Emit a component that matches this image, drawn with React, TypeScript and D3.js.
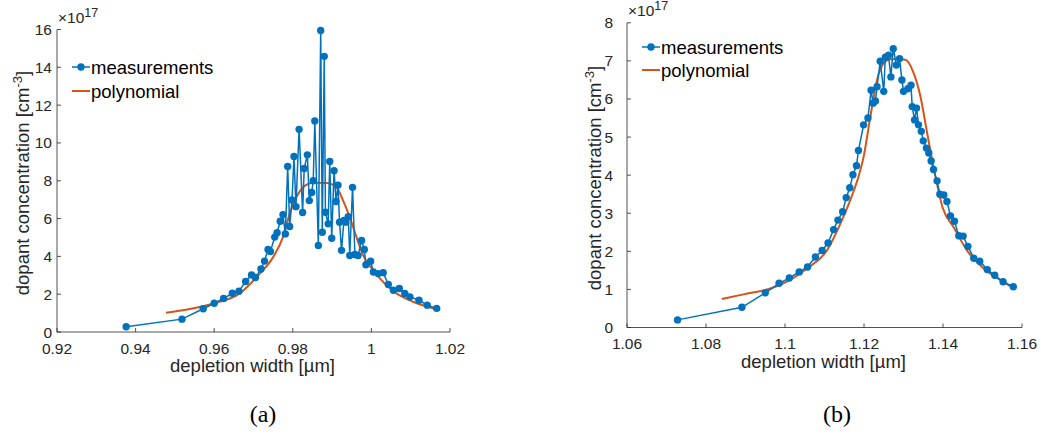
import React, { useEffect } from "react";
import * as d3 from "d3";

// ---------- data (concentration in units of 1e17 cm^-3, depth in µm) ----------
const depthA = [
  0.9376, 0.9518, 0.9572, 0.96, 0.9624, 0.9646, 0.9663, 0.968, 0.9695, 0.9705,
  0.9719, 0.9728, 0.9737, 0.9743, 0.9754, 0.976, 0.9768, 0.9775, 0.9781, 0.9787,
  0.9792, 0.9798, 0.9803, 0.9808, 0.9816, 0.9825, 0.9829, 0.9837, 0.9842, 0.9848,
  0.9852, 0.9856, 0.9865, 0.9871, 0.9875, 0.988, 0.9883, 0.989, 0.9894, 0.9899,
  0.9905, 0.991, 0.9915, 0.9919, 0.9924, 0.993, 0.9935, 0.9941, 0.9945, 0.9952,
  0.9958, 0.9966, 0.9975, 0.9982, 0.9986, 0.9998, 1.0005, 1.0017, 1.003, 1.0043,
  1.0056, 1.0071, 1.0085, 1.0098, 1.0121, 1.0142, 1.0166,
];
const concA = [
  0.28, 0.68, 1.23, 1.52, 1.77, 2.05, 2.16, 2.67, 3.02, 2.88,
  3.33, 3.75, 4.37, 4.26, 5.02, 5.25, 5.86, 6.21, 5.19, 8.75,
  5.58, 6.98, 9.28, 6.63, 10.72, 6.32, 8.65, 9.37, 6.95, 7.38,
  8.0, 11.16, 4.58, 15.95, 5.28, 14.58, 6.33, 5.72, 9.02, 4.96,
  8.53, 6.9, 7.77, 5.81, 4.32, 5.9, 5.81, 6.1, 4.05, 7.65,
  4.1, 4.05, 4.84, 4.37, 3.56, 3.74, 3.17, 3.09, 3.14, 2.51,
  2.21, 2.3, 2.04, 1.86, 1.68, 1.42, 1.25,
];
const polyDepthA = [
  0.9477, 0.9535, 0.96, 0.9665, 0.9716, 0.975, 0.9775, 0.9792, 0.9809, 0.9831,
  0.9852, 0.9886, 0.9911, 0.9928, 0.9945, 0.9962, 0.9979, 1.0005, 1.0034, 1.0064,
  1.0106, 1.0175,
];
const polyConcA = [
  1.02, 1.2, 1.52, 2.04, 3.09, 3.96, 5.02, 6.25, 7.12, 7.74,
  7.89, 7.88, 7.65, 6.95, 6.07, 5.02, 4.05, 3.26, 2.56, 2.04,
  1.6, 1.16,
];

const depthB = [
  1.0728, 1.0891, 1.095, 1.0985, 1.1011, 1.1036, 1.1057, 1.1077, 1.1094, 1.1109,
  1.1123, 1.1134, 1.1146, 1.1155, 1.1164, 1.1172, 1.1181, 1.1186, 1.1199, 1.121,
  1.1218, 1.1223, 1.1229, 1.1233, 1.1241, 1.125, 1.1254, 1.1262, 1.1268, 1.1274,
  1.1282, 1.129, 1.1296, 1.13, 1.1311, 1.1319, 1.1322, 1.1328, 1.1333, 1.1338,
  1.1345, 1.135, 1.1358, 1.1364, 1.137, 1.1376, 1.1385, 1.1392, 1.1402, 1.141,
  1.1419, 1.1429, 1.144, 1.1451, 1.1463, 1.1478, 1.1493, 1.1512, 1.1531, 1.1552,
  1.1578,
];
const concB = [
  0.2, 0.53, 0.91, 1.16, 1.3, 1.46, 1.59, 1.85, 2.02, 2.22,
  2.57, 2.82, 3.04, 3.41, 3.67, 4.01, 4.25, 4.65, 5.32, 5.5,
  6.23, 5.89, 5.95, 6.32, 6.99, 6.2, 7.1, 7.15, 6.58, 7.32,
  6.89, 7.06, 6.5, 6.2, 6.27, 6.36, 5.8, 5.45, 5.76, 5.32,
  5.15, 4.9, 4.71, 4.58, 4.37, 4.15, 3.85, 3.5, 3.48, 3.31,
  2.93, 2.79, 2.41, 2.4, 2.13, 1.82, 1.74, 1.52, 1.37, 1.2,
  1.07,
];
const polyDepthB = [
  1.084, 1.0895, 1.0971, 1.1013, 1.1056, 1.1106, 1.114, 1.1174, 1.1186, 1.1199,
  1.1216, 1.1233, 1.125, 1.1267, 1.1285, 1.1305, 1.1325, 1.1343, 1.136, 1.138,
  1.1399, 1.1427, 1.1461, 1.1503, 1.1546, 1.1582,
];
const polyConcB = [
  0.75, 0.87, 1.05, 1.25, 1.55, 2.02, 2.72, 3.59, 3.96, 4.48,
  5.53, 6.5, 6.94, 7.04, 7.05, 7.03, 6.7, 6.06, 5.1, 4.0,
  3.15, 2.63, 2.02, 1.55, 1.24, 1.01,
];

const xTicksA = [0.92, 0.94, 0.96, 0.98, 1.0, 1.02];
const xTickLabelsA = ["0.92", "0.94", "0.96", "0.98", "1", "1.02"];
const yTicksA = [0, 2, 4, 6, 8, 10, 12, 14, 16];
const xTicksB = [1.06, 1.08, 1.1, 1.12, 1.14, 1.16];
const xTickLabelsB = ["1.06", "1.08", "1.1", "1.12", "1.14", "1.16"];
const yTicksB = [0, 1, 2, 3, 4, 5, 6, 7, 8];
const legendLabels = ["measurements", "polynomial"];
const xAxisTitle = "depletion width [\u00b5m]";
const yAxisTitle = "dopant concentration [cm";
const exponentText = "17";
const captions = ["(a)", "(b)"];

// ---------- styling ----------
const BLUE = "#0072BD";
const ORANGE = "#D95319";
const AXIS = "#262626";
const SANS = "'Liberation Sans', Arial, Helvetica, sans-serif";
const SERIF = "'Liberation Serif', 'Times New Roman', serif";

type PanelProps = {
  xs: number[];
  ys: number[];
  pxs: number[];
  pys: number[];
  xDomain: [number, number];
  yDomain: [number, number];
  xRange: [number, number];
  yRange: [number, number];
  xTicks: number[];
  xTickLabels: string[];
  yTicks: number[];
  yLabelRight: number;
  xLabelY: number;
  yTitleX: number;
  yTitleY: number;
  xTitleY: number;
  legendX: number;
  legendY: number;
  legendGap: number;
  caption: string;
  captionX: number;
};

function Panel(p: PanelProps) {
  const x = d3.scaleLinear().domain(p.xDomain).range(p.xRange);
  const y = d3.scaleLinear().domain(p.yDomain).range(p.yRange);
  const measPts = p.xs.map((v, i) => [v, p.ys[i]] as [number, number]);
  const polyPts = p.pxs.map((v, i) => [v, p.pys[i]] as [number, number]);
  const line = d3
    .line<[number, number]>()
    .x((d) => x(d[0]))
    .y((d) => y(d[1]));
  const smooth = d3
    .line<[number, number]>()
    .x((d) => x(d[0]))
    .y((d) => y(d[1]))
    .curve(d3.curveMonotoneX);
  const [x0, x1] = p.xRange;
  const [yb, yt] = p.yRange;
  const tick = 4;
  const xMid = (x0 + x1) / 2;
  return (
    <g>
      {/* axes */}
      <line x1={x0} y1={yb} x2={x1} y2={yb} stroke={AXIS} strokeWidth={0.8} />
      <line x1={x0} y1={yb} x2={x0} y2={yt} stroke={AXIS} strokeWidth={0.8} />
      {p.xTicks.map((t, i) => (
        <g key={"xt" + i}>
          <line x1={x(t)} x2={x(t)} y1={yb} y2={yb - tick} stroke={AXIS} strokeWidth={0.8} />
          <text
            x={x(t)}
            y={p.xLabelY}
            textAnchor="middle"
            fontFamily={SANS}
            fontSize={15.5}
            fill={AXIS}
          >
            {p.xTickLabels[i]}
          </text>
        </g>
      ))}
      {p.yTicks.map((t, i) => (
        <g key={"yt" + i}>
          <line x1={x0} x2={x0 + tick} y1={y(t)} y2={y(t)} stroke={AXIS} strokeWidth={0.8} />
          <text
            x={p.yLabelRight}
            y={y(t) + 5.5}
            textAnchor="end"
            fontFamily={SANS}
            fontSize={15.5}
            fill={AXIS}
          >
            {String(t)}
          </text>
        </g>
      ))}
      {/* exponent */}
      <text x={x0 + 1} y={yt - 6.5} fontFamily={SANS} fontSize={15.5} fill={AXIS}>
        {"\u00d710"}
        <tspan fontSize={12.5} dy={-6.5}>
          {exponentText}
        </tspan>
      </text>
      {/* axis titles */}
      <text
        x={xMid - 1}
        y={p.xTitleY}
        textAnchor="middle"
        fontFamily={SANS}
        fontSize={18.5}
        fill={AXIS}
      >
        {xAxisTitle}
      </text>
      <text
        transform={`translate(${p.yTitleX},${p.yTitleY}) rotate(-90)`}
        textAnchor="middle"
        fontFamily={SANS}
        fontSize={18.5}
        fill={AXIS}
      >
        {yAxisTitle}
        <tspan fontSize={13} dy={-7}>
          -3
        </tspan>
        <tspan dy={7}>]</tspan>
      </text>
      {/* data */}
      <path d={smooth(polyPts) || ""} fill="none" stroke={ORANGE} strokeWidth={2} />
      <path d={line(measPts) || ""} fill="none" stroke={BLUE} strokeWidth={1.5} />
      {measPts.map((d, i) => (
        <circle key={"m" + i} cx={x(d[0])} cy={y(d[1])} r={3.7} fill={BLUE} />
      ))}
      {/* legend */}
      <g>
        <line
          x1={p.legendX}
          x2={p.legendX + 18}
          y1={p.legendY}
          y2={p.legendY}
          stroke={BLUE}
          strokeWidth={1.5}
        />
        <circle cx={p.legendX + 9} cy={p.legendY} r={3.7} fill={BLUE} />
        <text
          x={p.legendX + 19}
          y={p.legendY + 6.5}
          fontFamily={SANS}
          fontSize={18.5}
          fill="#000"
        >
          {legendLabels[0]}
        </text>
        <line
          x1={p.legendX}
          x2={p.legendX + 18}
          y1={p.legendY + p.legendGap}
          y2={p.legendY + p.legendGap}
          stroke={ORANGE}
          strokeWidth={2}
        />
        <text
          x={p.legendX + 19}
          y={p.legendY + p.legendGap + 6.5}
          fontFamily={SANS}
          fontSize={18.5}
          fill="#000"
        >
          {legendLabels[1]}
        </text>
      </g>
      {/* caption */}
      <text
        x={p.captionX}
        y={422}
        textAnchor="middle"
        fontFamily={SERIF}
        fontSize={24}
        fill="#000"
      >
        {p.caption}
      </text>
    </g>
  );
}

export default function App() {
  useEffect(() => {
    document.body.style.margin = "0";
    document.body.style.background = "#fff";
  }, []);
  return (
    <svg width={1041} height={437} style={{ display: "block", background: "#fff" }}>
      <Panel
        xs={depthA}
        ys={concA}
        pxs={polyDepthA}
        pys={polyConcA}
        xDomain={[0.92, 1.02]}
        yDomain={[0, 16]}
        xRange={[57, 450]}
        yRange={[332, 29.5]}
        xTicks={xTicksA}
        xTickLabels={xTickLabelsA}
        yTicks={yTicksA}
        yLabelRight={52}
        xLabelY={353.5}
        yTitleX={29}
        yTitleY={183}
        xTitleY={372}
        legendX={72}
        legendY={67}
        legendGap={24}
        caption={captions[0]}
        captionX={263}
      />
      <Panel
        xs={depthB}
        ys={concB}
        pxs={polyDepthB}
        pys={polyConcB}
        xDomain={[1.06, 1.16]}
        yDomain={[0, 8]}
        xRange={[627, 1022]}
        yRange={[327.5, 22.8]}
        xTicks={xTicksB}
        xTickLabels={xTickLabelsB}
        yTicks={yTicksB}
        yLabelRight={613}
        xLabelY={348.5}
        yTitleX={601}
        yTitleY={178}
        xTitleY={368}
        legendX={642}
        legendY={47}
        legendGap={23}
        caption={captions[1]}
        captionX={837}
      />
    </svg>
  );
}
